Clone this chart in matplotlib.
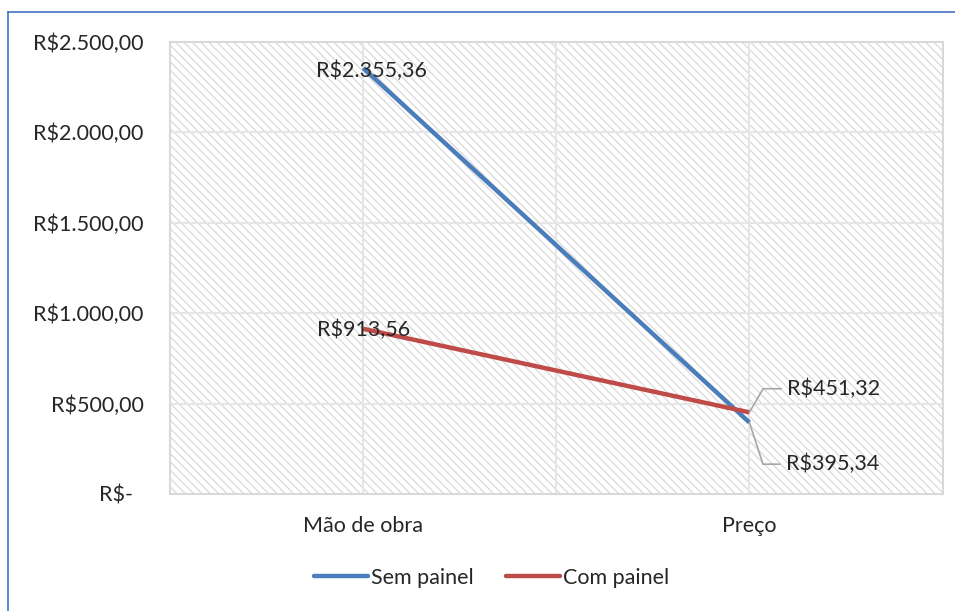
import matplotlib.pyplot as plt
from matplotlib.patches import Rectangle
from matplotlib.lines import Line2D
from matplotlib.transforms import ScaledTranslation

# categories and the two cost series
categorias = ['Mão de obra', 'Preço']
sem_painel = [2355.36, 395.34]
com_painel = [913.56, 451.32]
rotulos_sem = ['R$2.355,36', 'R$395,34']
rotulos_com = ['R$913,56', 'R$451,32']
y_ticks = [0, 500, 1000, 1500, 2000, 2500]
y_labels = ['R$-', 'R$500,00', 'R$1.000,00', 'R$1.500,00', 'R$2.000,00', 'R$2.500,00']

plt.rcParams['font.family'] = ['Lato', 'DejaVu Sans']
plt.rcParams['hatch.linewidth'] = 0.9
plt.rcParams['hatch.color'] = '#d9d9d9'

azul = '#4a7ebb'
vermelho = '#be4b48'
cinza = '#a6a6a6'
texto = '#262626'
fs = 15.5

fig = plt.figure(figsize=(9.55, 6.11), dpi=100)
ax = fig.add_axes([0.178, 0.1915, 0.809, 0.74])

# hatched plot area
fundo = Rectangle((0, 0), 1, 1, transform=ax.transAxes, facecolor='white',
                  edgecolor='#d9d9d9', hatch='\\\\\\\\', linewidth=0, zorder=0)
ax.add_patch(fundo)
ax.patch.set_visible(False)

x = list(range(len(categorias)))
ax.plot(x, sem_painel, color=azul, linewidth=3.2, solid_capstyle='butt',
        label='Sem painel', zorder=3)
ax.plot(x, com_painel, color=vermelho, linewidth=3.2, solid_capstyle='butt',
        label='Com painel', zorder=3)

ax.set_xlim(-0.5, 1.5)
ax.set_ylim(0, 2500)
ax.set_yticks(y_ticks)
ax.set_yticklabels(y_labels)
ax.set_xticks(x)
ax.set_xticklabels(categorias)
ax.tick_params(axis='both', length=0, labelsize=fs, colors=texto)
ax.tick_params(axis='y', pad=19)
ax.tick_params(axis='x', pad=16)

# the zero label sits a little further left (accounting format)
zero = ax.get_yticklabels()[0]
zero.set_transform(zero.get_transform() + ScaledTranslation(-0.11, 0, fig.dpi_scale_trans))

# gridlines
for yv in y_ticks[1:-1]:
    ax.axhline(yv, color='#e6e6e6', linewidth=1.5, zorder=1)
for xv in [0, 0.5, 1]:
    ax.axvline(xv, color='#e6e6e6', linewidth=1.5, zorder=1)

for s in ax.spines.values():
    s.set_color('#d9d9d9')
    s.set_linewidth(1.5)

# data labels at the first category
ax.annotate(rotulos_sem[0], (x[0], sem_painel[0]), xytext=(6, -2),
            textcoords='offset points', ha='center', va='center',
            fontsize=fs, color=texto, zorder=4)
ax.annotate(rotulos_com[0], (x[0], com_painel[0]), xytext=(0, -1),
            textcoords='offset points', ha='center', va='center',
            fontsize=fs, color=texto, zorder=4)

# data labels at the second category, with leader lines
ax.annotate(rotulos_com[1], (x[1], com_painel[1]), xytext=(27, 17),
            textcoords='offset points', ha='left', va='center',
            fontsize=fs, color=texto, zorder=4,
            arrowprops=dict(arrowstyle='-', color=cinza, linewidth=1.2,
                            connectionstyle='angle,angleA=0,angleB=60,rad=0',
                            shrinkA=2, shrinkB=0))
ax.annotate(rotulos_sem[1], (x[1], sem_painel[1]), xytext=(26, -30),
            textcoords='offset points', ha='left', va='center',
            fontsize=fs, color=texto, zorder=4,
            arrowprops=dict(arrowstyle='-', color=cinza, linewidth=1.2,
                            connectionstyle='angle,angleA=0,angleB=-72,rad=0',
                            shrinkA=2, shrinkB=0))

leg = fig.legend(loc='center', bbox_to_anchor=(0.515, 0.054), ncol=2,
                 frameon=False, fontsize=fs, handlelength=2.5,
                 handletextpad=0.15, columnspacing=1.5)
for t in leg.get_texts():
    t.set_color(texto)
for h in leg.get_lines():
    h.set_solid_capstyle('round')

# chart border, only top and left edges visible
fig.add_artist(Line2D([8 / 955, 1], [1 - 12 / 611, 1 - 12 / 611],
                      transform=fig.transFigure, color='#4472c4', linewidth=1.2))
fig.add_artist(Line2D([8 / 955, 8 / 955], [0, 1 - 12 / 611],
                      transform=fig.transFigure, color='#4472c4', linewidth=1.2))

fig.savefig('out.png', dpi=100)
